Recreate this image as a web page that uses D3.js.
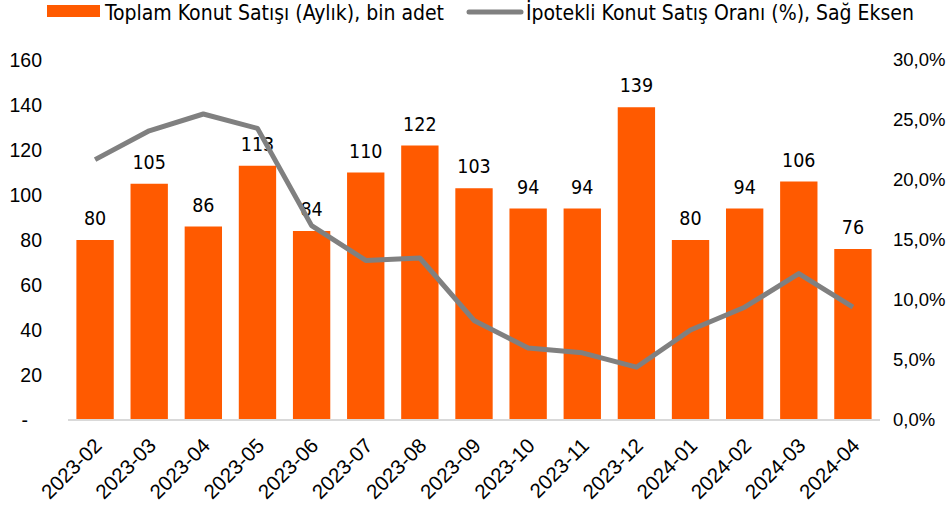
<!DOCTYPE html>
<html lang="tr">
<head>
  <meta charset="UTF-8">
  <title>Konut Satışları</title>
  <script src="https://d3js.org/d3.v7.min.js"></script>
  <style>
    body { margin: 0; background: #fff; }
    svg { display: block; font-family: "DejaVu Sans Condensed", "DejaVu Sans", sans-serif; }
    .tick text { fill: #000; }
  </style>
</head>
<body>
  <svg id="chart"></svg>
  <script>
    // data
    const months = ["2023-02", "2023-03", "2023-04", "2023-05", "2023-06", "2023-07", "2023-08", "2023-09",
                    "2023-10", "2023-11", "2023-12", "2024-01", "2024-02", "2024-03", "2024-04"];
    const sales = [80, 105, 86, 113, 84, 110, 122, 103, 94, 94, 139, 80, 94, 106, 76];
    const mortgageShare = [21.7, 24.1, 25.5, 24.3, 16.2, 13.3, 13.5, 8.3, 6.0, 5.6, 4.4, 7.5, 9.4, 12.2, 9.4];
    const leftTicks = [0, 20, 40, 60, 80, 100, 120, 140, 160];
    const rightTicks = [0, 5, 10, 15, 20, 25, 30];
    const seriesNames = ["Toplam Konut Satışı (Aylık), bin adet", "İpotekli Konut Satış Oranı (%), Sağ Eksen"];

    const width = 948, height = 508;
    const margin = { top: 60, right: 68, bottom: 88, left: 68 };

    const svg = d3.select("#chart").attr("width", width).attr("height", height);

    const x = d3.scaleBand()
      .domain(months)
      .range([margin.left, width - margin.right])
      .paddingInner(0.31)
      .paddingOuter(0.155);

    const y = d3.scaleLinear().domain([0, 160]).range([height - margin.bottom, margin.top]);
    const y2 = d3.scaleLinear().domain([0, 30]).range([height - margin.bottom, margin.top]);

    const orange = "#ff5a00";
    const grey = "#808080";

    // left axis (zero shown as a dash, like the accounting format)
    svg.append("g")
      .attr("transform", `translate(${margin.left - 26},0)`)
      .call(d3.axisLeft(y).tickValues(leftTicks).tickSize(0).tickPadding(0)
        .tickFormat(d => d === 0 ? "-" : d))
      .call(g => g.select(".domain").remove())
      .call(g => g.selectAll("text").attr("font-size", 19.5).attr("font-family", null)
        .attr("dx", d => d === 0 ? -14 : 0));

    // right axis
    svg.append("g")
      .attr("transform", `translate(${width - margin.right + 13},0)`)
      .call(d3.axisRight(y2).tickValues(rightTicks).tickSize(0).tickPadding(0)
        .tickFormat(d => d.toFixed(1).replace(".", ",") + "%"))
      .call(g => g.select(".domain").remove())
      .call(g => g.selectAll("text").attr("font-size", 18.5).attr("font-family", null));

    // bars
    svg.append("g")
      .selectAll("rect")
      .data(sales)
      .join("rect")
      .attr("x", (d, i) => x(months[i]))
      .attr("y", d => y(d))
      .attr("width", x.bandwidth())
      .attr("height", d => y(0) - y(d))
      .attr("fill", orange);

    // baseline
    svg.append("line")
      .attr("x1", margin.left).attr("x2", width - margin.right)
      .attr("y1", y(0)).attr("y2", y(0))
      .attr("stroke", "#d9d9d9").attr("stroke-width", 2);

    // bar value labels
    svg.append("g")
      .selectAll("text")
      .data(sales)
      .join("text")
      .attr("x", (d, i) => x(months[i]) + x.bandwidth() / 2)
      .attr("y", d => y(d) - 15)
      .attr("text-anchor", "middle")
      .attr("font-size", 19.5)
      .text(d => d);

    // mortgage share line
    const line = d3.line()
      .x((d, i) => x(months[i]) + x.bandwidth() / 2)
      .y(d => y2(d));

    svg.append("path")
      .datum(mortgageShare)
      .attr("d", line)
      .attr("fill", "none")
      .attr("stroke", grey)
      .attr("stroke-width", 5)
      .attr("stroke-linejoin", "round");

    // x labels
    svg.append("g")
      .attr("transform", `translate(0,${y(0)})`)
      .call(d3.axisBottom(x).tickSize(0).tickPadding(0))
      .call(g => g.select(".domain").remove())
      .call(g => g.selectAll("text")
        .attr("font-size", 20.5)
        .attr("font-family", null)
        .attr("text-anchor", "end")
        .attr("dy", null)
        .attr("y", 0)
        .attr("transform", "translate(8,27) rotate(-45)"));

    // legend
    const legend = svg.append("g").attr("font-size", 21);
    legend.append("rect").attr("x", 47).attr("y", 5).attr("width", 53).attr("height", 12).attr("fill", orange);
    legend.append("text").attr("x", 105).attr("y", 20).text(seriesNames[0]);
    legend.append("line").attr("x1", 469).attr("x2", 521).attr("y1", 12).attr("y2", 12)
      .attr("stroke", grey).attr("stroke-width", 5).attr("stroke-linecap", "round");
    legend.append("text").attr("x", 526).attr("y", 20).text(seriesNames[1]);
  </script>
</body>
</html>
